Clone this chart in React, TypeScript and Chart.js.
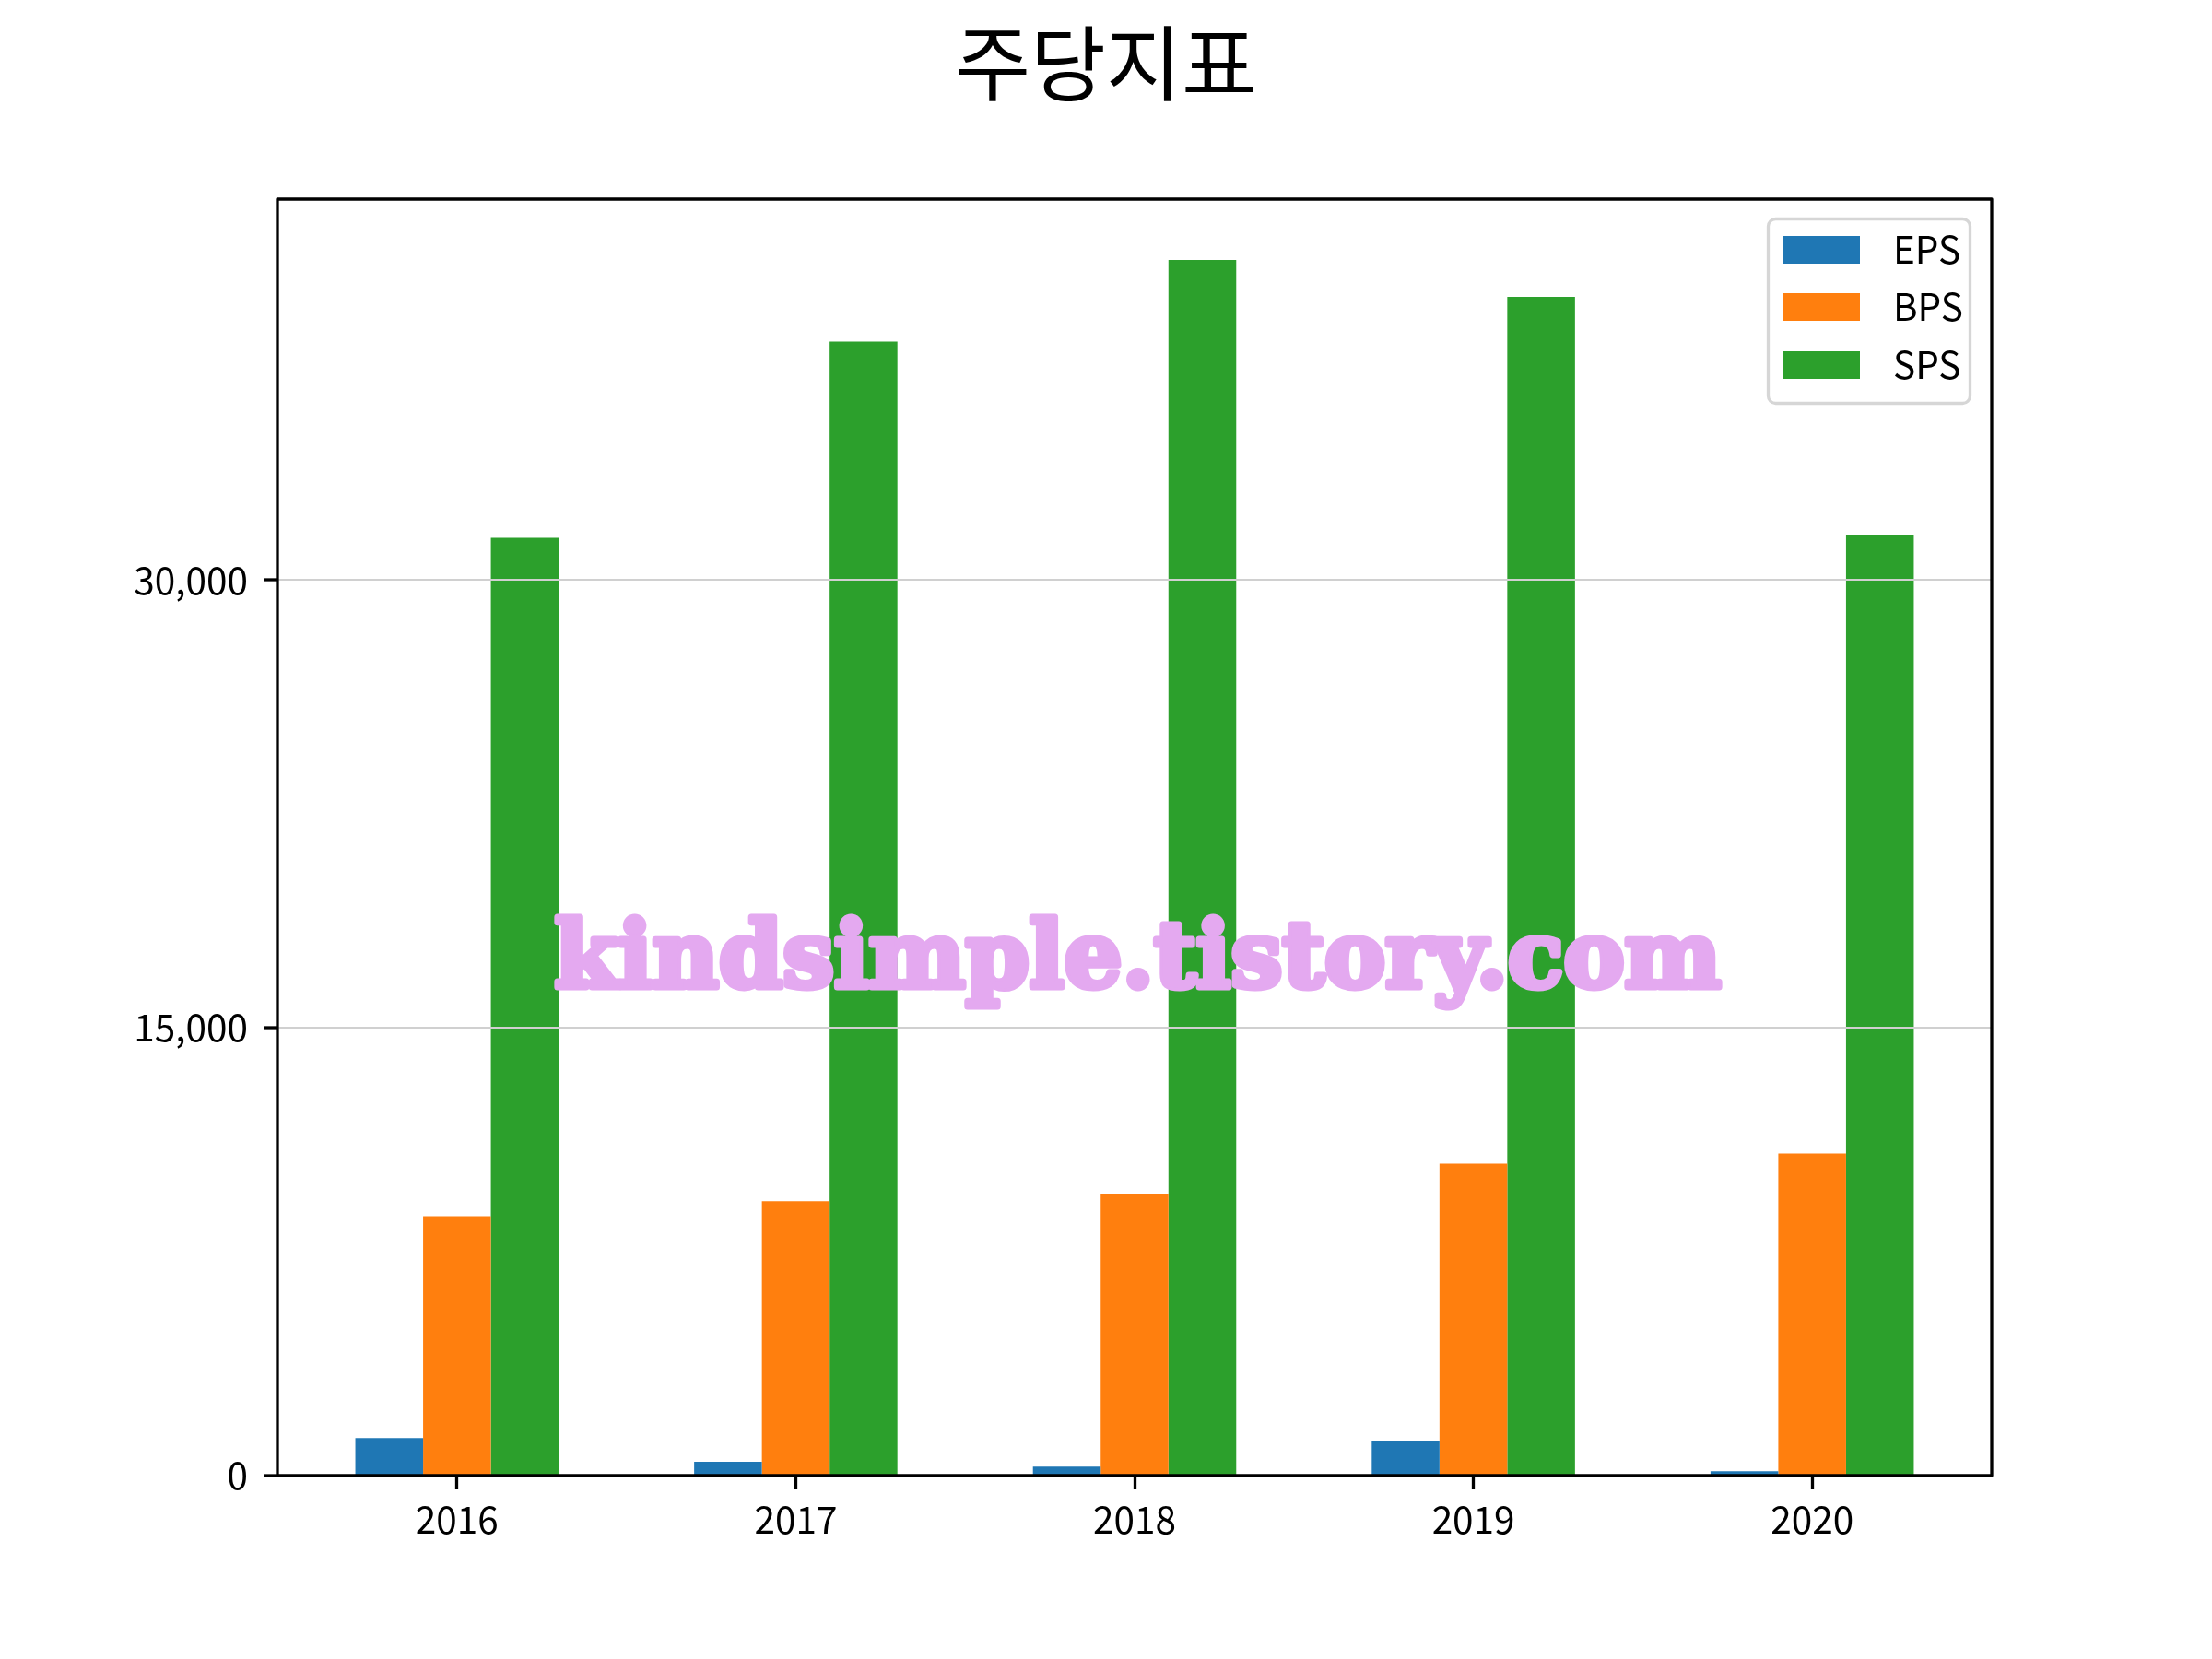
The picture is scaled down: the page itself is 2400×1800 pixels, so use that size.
import React, { useEffect, useRef } from 'react';
import { Chart, registerables } from 'chart.js';

Chart.register(...registerables);

const TITLE = '주당지표';
const WATERMARK = 'kindsimple.tistory.com';
const categories = ['2016', '2017', '2018', '2019', '2020'];
const seriesNames = ['EPS', 'BPS', 'SPS'];
const epsValues = [1260, 460, 300, 1140, 150];
const bpsValues = [8690, 9190, 9430, 10450, 10790];
const spsValues = [31410, 37990, 40720, 39480, 31500];
const yTickValues = [0, 15000, 30000];
const seriesColors = ['#1f77b4', '#ff7f0e', '#2ca02c'];

const FONT = '"Noto Sans CJK KR", "Noto Sans", sans-serif';

const overlayPlugin = {
  id: 'overlay',
  afterDraw(chart: any) {
    const ctx: CanvasRenderingContext2D = chart.ctx;
    const ca = chart.chartArea;
    ctx.save();

    // watermark (heavier look via same-colour stroke)
    const strokeW = 7;
    ctx.font = `bold 100px "DejaVu Serif"`;
    const w = ctx.measureText(WATERMARK).width;
    const size = (100 * (1273 - strokeW)) / w;
    ctx.font = `bold ${size}px "DejaVu Serif"`;
    ctx.fillStyle = '#e4a9f0';
    ctx.strokeStyle = '#e4a9f0';
    ctx.lineWidth = strokeW;
    ctx.lineJoin = 'round';
    ctx.textAlign = 'left';
    ctx.textBaseline = 'alphabetic';
    ctx.strokeText(WATERMARK, 598 + strokeW / 2, 1071);
    ctx.fillText(WATERMARK, 598 + strokeW / 2, 1071);

    // axes frame
    ctx.strokeStyle = '#000';
    ctx.lineWidth = 3.3;
    ctx.strokeRect(ca.left, ca.top, ca.right - ca.left, ca.bottom - ca.top);

    // title
    ctx.fillStyle = '#000';
    ctx.font = `89px ${FONT}`;
    ctx.textAlign = 'center';
    ctx.textBaseline = 'middle';
    ctx.fillText(TITLE, 1200, 68);

    // legend
    ctx.beginPath();
    (ctx as any).roundRect(1918.5, 237.5, 219, 200, 8);
    ctx.fillStyle = 'rgba(255,255,255,0.8)';
    ctx.fill();
    ctx.strokeStyle = '#d6d6d6';
    ctx.lineWidth = 3.3;
    ctx.stroke();
    const rowCenters = [271, 333, 396];
    ctx.font = `40.5px ${FONT}`;
    ctx.textAlign = 'left';
    ctx.textBaseline = 'middle';
    chart.data.datasets.forEach((ds: any, i: number) => {
      const cy = rowCenters[i];
      ctx.fillStyle = ds.backgroundColor;
      ctx.fillRect(1935, cy - 15, 83, 30);
      ctx.fillStyle = '#000';
      ctx.fillText(ds.label, 2054, cy);
    });

    ctx.restore();
  },
};

export default function App() {
  const canvasRef = useRef<HTMLCanvasElement | null>(null);

  useEffect(() => {
    if (!canvasRef.current) return;
    const n = categories.length;
    const span = n - 1 + 0.6;
    const xMin = -0.3 - 0.05 * span;
    const xMax = n - 1 + 0.3 + 0.05 * span;
    const allValues = [...epsValues, ...bpsValues, ...spsValues];
    const yMax = Math.max(...allValues) * 1.05;
    const seriesValues = [epsValues, bpsValues, spsValues];

    const chart = new Chart(canvasRef.current, {
      type: 'bar',
      data: {
        labels: categories,
        datasets: seriesNames.map((name, si) => ({
          label: name,
          data: seriesValues[si].map((v, i) => ({ x: i, y: v })),
          backgroundColor: seriesColors[si],
          borderWidth: 0,
          categoryPercentage: 0.6,
          barPercentage: 1.0,
        })),
      },
      options: {
        responsive: false,
        animation: false,
        devicePixelRatio: 1,
        layout: { padding: { left: 0, top: 216, right: 239, bottom: 0 } },
        plugins: {
          legend: { display: false },
          title: { display: false },
          tooltip: { enabled: false },
        },
        scales: {
          x: {
            type: 'linear',
            min: xMin,
            max: xMax,
            offset: false,
            grid: {
              offset: false,
              drawOnChartArea: false,
              drawTicks: true,
              tickLength: 15,
              tickColor: '#000',
              tickWidth: 3.3,
            },
            border: { display: false },
            ticks: {
              font: { family: FONT, size: 40.5 },
              color: '#000',
              padding: 8,
              maxRotation: 0,
              autoSkip: false,
              callback: (v: any) => categories[Number(v)] ?? '',
            },
            afterBuildTicks: (s: any) => {
              s.ticks = categories.map((_, i) => ({ value: i }));
            },
            afterFit: (s: any) => {
              s.height = 199;
            },
          },
          y: {
            type: 'linear',
            min: 0,
            max: yMax,
            grid: {
              color: '#d0d0d0',
              lineWidth: 2,
              drawTicks: true,
              tickLength: 15,
              tickColor: '#000',
              tickWidth: 3.3,
              z: 1,
            },
            border: { display: false },
            ticks: {
              font: { family: FONT, size: 40.5 },
              color: '#000',
              padding: 17,
              callback: (v: any) => Number(v).toLocaleString('en-US'),
            },
            afterBuildTicks: (s: any) => {
              s.ticks = yTickValues.map((v) => ({ value: v }));
            },
            afterFit: (s: any) => {
              s.width = 301;
            },
          },
        },
      } as any,
      plugins: [overlayPlugin],
    });

    return () => chart.destroy();
  }, []);

  return (
    <div style={{ position: 'absolute', left: 0, top: 0, width: 2400, height: 1800, background: '#fff' }}>
      <canvas ref={canvasRef} width={2400} height={1800} style={{ display: 'block', width: 2400, height: 1800 }} />
    </div>
  );
}
